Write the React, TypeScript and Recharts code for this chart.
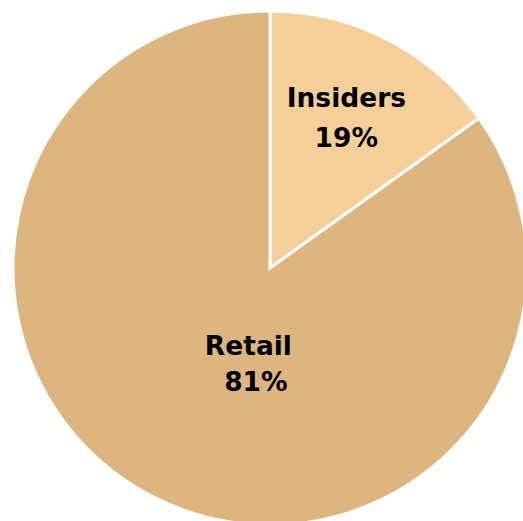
import React from "react";
import { PieChart, Pie, Cell } from "recharts";

const categories = ["Insiders", "Retail"];
const values = [15.1, 84.9];
const percentLabels = ["19%", "81%"];
const colors = ["#F4CF98", "#DDB57F"];

const data = categories.map((name, i) => ({ name, value: values[i] }));

// label placement as fractions of the radius (relative to pie centre)
const labelPlacement = [
  { nameDx: 0.297, nameDy: -0.625, pctDx: 0.297, pctDy: -0.469 },
  { nameDx: -0.084, nameDy: 0.34, pctDx: -0.055, pctDy: 0.477 },
];

const renderLabel = (props: any) => {
  const { cx, cy, outerRadius, index } = props;
  const p = labelPlacement[index];
  const style = {
    fontFamily: "'DejaVu Sans', sans-serif",
    fontWeight: 700,
    fontSize: 26.5,
    fill: "#000",
  } as React.CSSProperties;
  return (
    <g key={`lbl-${index}`}>
      <text x={cx + p.nameDx * outerRadius} y={cy + p.nameDy * outerRadius} textAnchor="middle" style={style}>
        {categories[index]}
      </text>
      <text x={cx + p.pctDx * outerRadius} y={cy + p.pctDy * outerRadius} textAnchor="middle" style={style}>
        {percentLabels[index]}
      </text>
    </g>
  );
};

export default function App() {
  return (
    <div style={{ position: "absolute", left: 0, top: 0, width: 523, height: 521, background: "#fff" }}>
      <PieChart width={523} height={521} margin={{ top: 0, right: 0, bottom: 0, left: 0 }}>
        <Pie
          data={data}
          dataKey="value"
          nameKey="name"
          cx={270}
          cy={268}
          outerRadius={257}
          startAngle={90}
          endAngle={-270}
          stroke="#ffffff"
          strokeWidth={3}
          label={renderLabel}
          labelLine={false}
          isAnimationActive={false}
        >
          {data.map((d, i) => (
            <Cell key={d.name} fill={colors[i]} />
          ))}
        </Pie>
      </PieChart>
    </div>
  );
}
